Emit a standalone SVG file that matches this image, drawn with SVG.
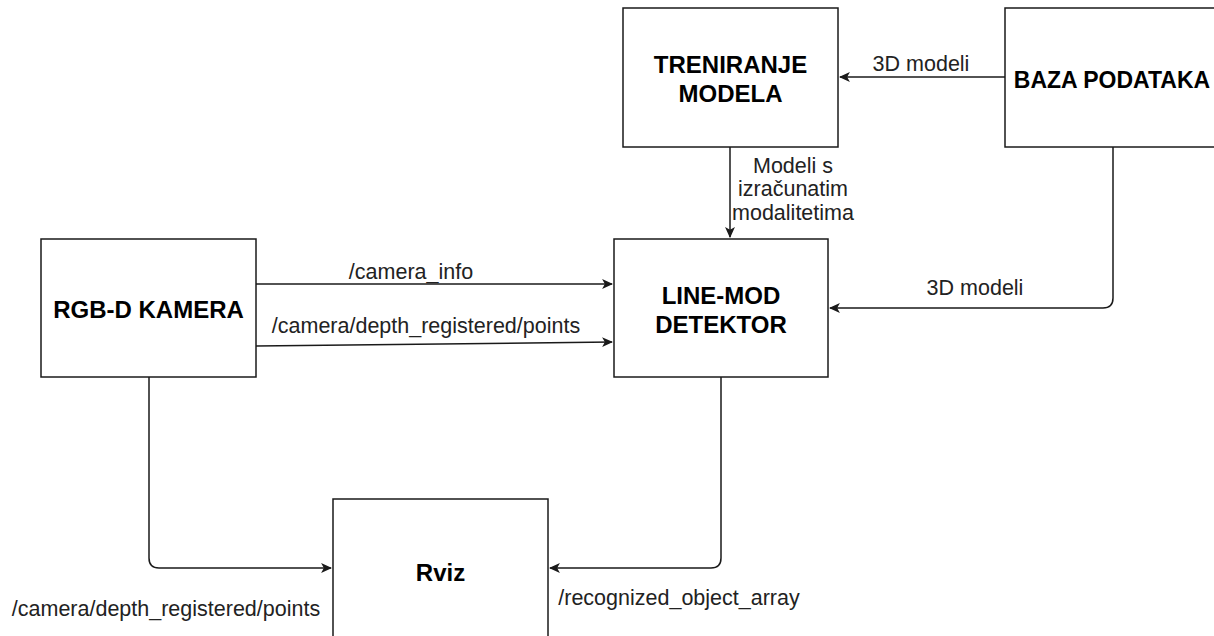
<svg xmlns="http://www.w3.org/2000/svg" width="1214" height="636" viewBox="0 0 1214 636">
<defs>
<style>
.box{fill:#fff;stroke:#1a1a1a;stroke-width:1.5}
.nt{font-family:"Liberation Sans",Arial,sans-serif;font-weight:bold;font-size:24px;fill:#000;text-anchor:middle}
.el{font-family:"Liberation Sans",Arial,sans-serif;font-size:21.5px;fill:#222;text-anchor:middle}
.cn{fill:none;stroke:#1a1a1a;stroke-width:1.5}
</style>
<marker id="ah" viewBox="0 0 10 10" refX="9" refY="5" markerWidth="11" markerHeight="11" markerUnits="userSpaceOnUse" orient="auto">
<path d="M0,0.5 L10,5 L0,9.5 L2.5,5 Z" fill="#1a1a1a"/>
</marker>
</defs>
<rect width="1214" height="636" fill="#fff"/>
<g id="connectors">
<path class="cn" d="M1005 77 L840 77" marker-end="url(#ah)"/>
<path class="cn" d="M730 147 L730 237" marker-end="url(#ah)"/>
<path class="cn" d="M1113 147 L1113 298 Q1113 308 1103 308 L830 308" marker-end="url(#ah)"/>
<path class="cn" d="M256 284 L612 284" marker-end="url(#ah)"/>
<path class="cn" d="M256 346 L612 342" marker-end="url(#ah)"/>
<path class="cn" d="M149 377 L149 558 Q149 568 159 568 L331 568" marker-end="url(#ah)"/>
<path class="cn" d="M721 377 L721 558 Q721 568 711 568 L550 568" marker-end="url(#ah)"/>
<text class="el" x="921" y="70.5">3D modeli</text>
<text class="el" x="793" y="172.5">Modeli s</text>
<text class="el" x="793" y="196">izračunatim</text>
<text class="el" x="793" y="219.5">modalitetima</text>
<text class="el" x="975" y="294.5">3D modeli</text>
<text class="el" x="411" y="278.5">/camera_info</text>
<text class="el" x="426" y="332.5">/camera/depth_registered/points</text>
<text class="el" x="166" y="615.5">/camera/depth_registered/points</text>
<text class="el" x="679" y="604.5">/recognized_object_array</text>
</g>
<g id="treniranje">
<rect class="box" x="623" y="8" width="215" height="139"/>
<text class="nt" x="730.5" y="72.5">TRENIRANJE</text>
<text class="nt" x="730.5" y="101.5">MODELA</text>
</g>
<g id="baza">
<rect class="box" x="1005" y="8" width="216" height="139"/>
<text class="nt" x="1112" y="87.5" style="font-size:23px">BAZA PODATAKA</text>
</g>
<g id="linemod">
<rect class="box" x="614" y="239" width="214" height="138"/>
<text class="nt" x="721" y="303.5">LINE-MOD</text>
<text class="nt" x="721" y="332.5">DETEKTOR</text>
</g>
<g id="kamera">
<rect class="box" x="41" y="239" width="215" height="138"/>
<text class="nt" x="148.5" y="317.5">RGB-D KAMERA</text>
</g>
<g id="rviz">
<rect class="box" x="333" y="499" width="215" height="145"/>
<text class="nt" x="440.5" y="580.5">Rviz</text>
</g>
</svg>
